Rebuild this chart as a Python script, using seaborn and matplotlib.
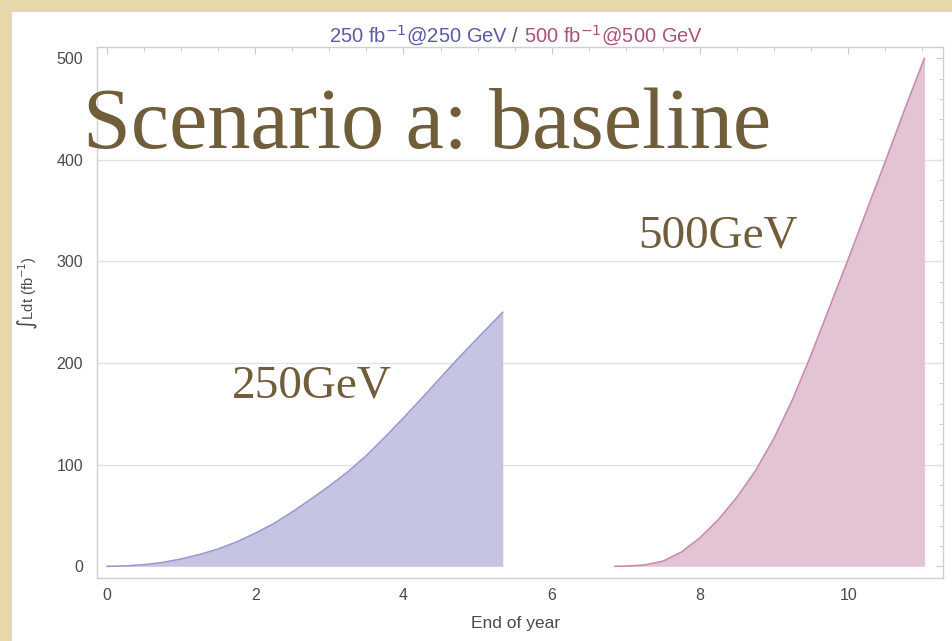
import numpy as np
import pandas as pd
import matplotlib
matplotlib.use("Agg")
import matplotlib.pyplot as plt
from matplotlib.ticker import MultipleLocator
import seaborn as sns

# ---- data ----
years_250 = [0.0, 0.25, 0.5, 0.75, 1.0, 1.25, 1.5, 1.75, 2.0, 2.25, 2.5, 2.75,
             3.0, 3.25, 3.5, 3.75, 4.0, 4.25, 4.5, 4.75, 5.0, 5.34]
lumi_250 = [0.0, 0.4, 1.6, 3.8, 7.2, 11.6, 17.0, 24.0, 32.5, 42.0, 53.5, 66.0,
            79.0, 93.0, 109.0, 127.0, 146.0, 165.5, 185.5, 205.5, 224.5, 250.0]
years_500 = [6.85, 7.0, 7.25, 7.5, 7.75, 8.0, 8.25, 8.5, 8.75, 9.0, 9.25, 9.5,
             9.75, 10.0, 10.25, 10.5, 10.75, 11.03]
lumi_500 = [0.0, 0.2, 1.3, 5.0, 14.0, 28.0, 46.0, 68.0, 94.0, 126.0, 164.0, 208.0,
            255.0, 302.0, 350.0, 398.0, 447.0, 500.0]
x_ticks = [0, 2, 4, 6, 8, 10]
y_ticks = [0, 100, 200, 300, 400, 500]

df = pd.concat([
    pd.DataFrame({"year": years_250, "lumi": lumi_250, "run": "250"}),
    pd.DataFrame({"year": years_500, "lumi": lumi_500, "run": "500"}),
])

sns.set_theme(style="white")
plt.rcParams["font.family"] = ["Liberation Sans", "DejaVu Sans"]

W, H = 952, 641
fig = plt.figure(figsize=(W / 100, H / 100), dpi=100)
fig.patch.set_facecolor("#e7d7aa")
# white slide area
fig.add_artist(plt.Rectangle((12 / W, 0), 1 - 12 / W, 1 - 12 / H,
                             transform=fig.transFigure, facecolor="white",
                             edgecolor="none", zorder=0))

ax = fig.add_axes([97 / W, 63 / H, (943 - 97) / W, (594 - 63) / H])
ax.set_facecolor("white")

blue_line, blue_fill = "#9a98d2", "#c6c4e3"
pink_line, pink_fill = "#c98aab", "#e2c4d5"

sns.lineplot(data=df, x="year", y="lumi", hue="run",
             palette={"250": blue_line, "500": pink_line},
             legend=False, ax=ax, linewidth=1.2, zorder=3)
ax.fill_between(years_250, lumi_250, 0, color=blue_fill, lw=0, zorder=2)
ax.fill_between(years_500, lumi_500, 0, color=pink_fill, lw=0, zorder=2)

ax.set_xlim(-0.135, 11.28)
ax.set_ylim(-11.5, 511)
ax.set_xticks(x_ticks)
ax.set_yticks(y_ticks)
ax.xaxis.set_minor_locator(MultipleLocator(0.5))
ax.yaxis.set_minor_locator(MultipleLocator(20))
ax.tick_params(axis="both", which="both", direction="in", top=True, right=True,
               colors="#c8c8c8", labelcolor="#4a4a4a", labelsize=11.5)
ax.tick_params(which="major", length=5, width=0.8)
ax.tick_params(which="minor", length=3, width=0.6)
ax.tick_params(axis="x", pad=7)
ax.tick_params(axis="y", pad=10)
ax.tick_params(labeltop=False, labelright=False)
for s in ax.spines.values():
    s.set_color("#cfcfcf")
    s.set_linewidth(1.0)

for yv in y_ticks[1:-1]:
    ax.axhline(yv, color="#e2e2e2", lw=1.0, zorder=1)

ax.set_xlabel("End of year", color="#4a4a4a", fontsize=12.5)
ax.xaxis.set_label_coords((516 - 97) / 846, (578 - 616) / 531)
ax.set_ylabel(r"$\int$Ldt (fb$^{-1}$)", color="#4a4a4a", fontsize=10.5)
ax.yaxis.set_label_coords((40 - 97) / 846, (578 - 293) / 531)

# title in two colours
fig.text(508 / W, 1 - 36 / H, r"250 fb$^{-1}$@250 GeV", color="#5b5aa9",
         fontsize=14.5, ha="right", va="center")
fig.text(515 / W, 1 - 36 / H, "/", color="#555555", fontsize=14.5,
         ha="center", va="center")
fig.text(524 / W, 1 - 36 / H, r"500 fb$^{-1}$@500 GeV", color="#a9517d",
         fontsize=14.5, ha="left", va="center")

# slide overlay texts
serif = ["Liberation Serif", "DejaVu Serif"]
brown = "#6f5e39"
fig.text(83 / W, 1 - 148 / H, "Scenario a: baseline", family=serif,
         fontsize=62, color=brown, ha="left", va="baseline")
fig.text(638 / W, 1 - 247 / H, "500GeV", family=serif, fontsize=34,
         color=brown, ha="left", va="baseline")
fig.text(232 / W, 1 - 398 / H, "250GeV", family=serif, fontsize=34,
         color=brown, ha="left", va="baseline")

fig.savefig("out.png", dpi=100, facecolor=fig.get_facecolor())
